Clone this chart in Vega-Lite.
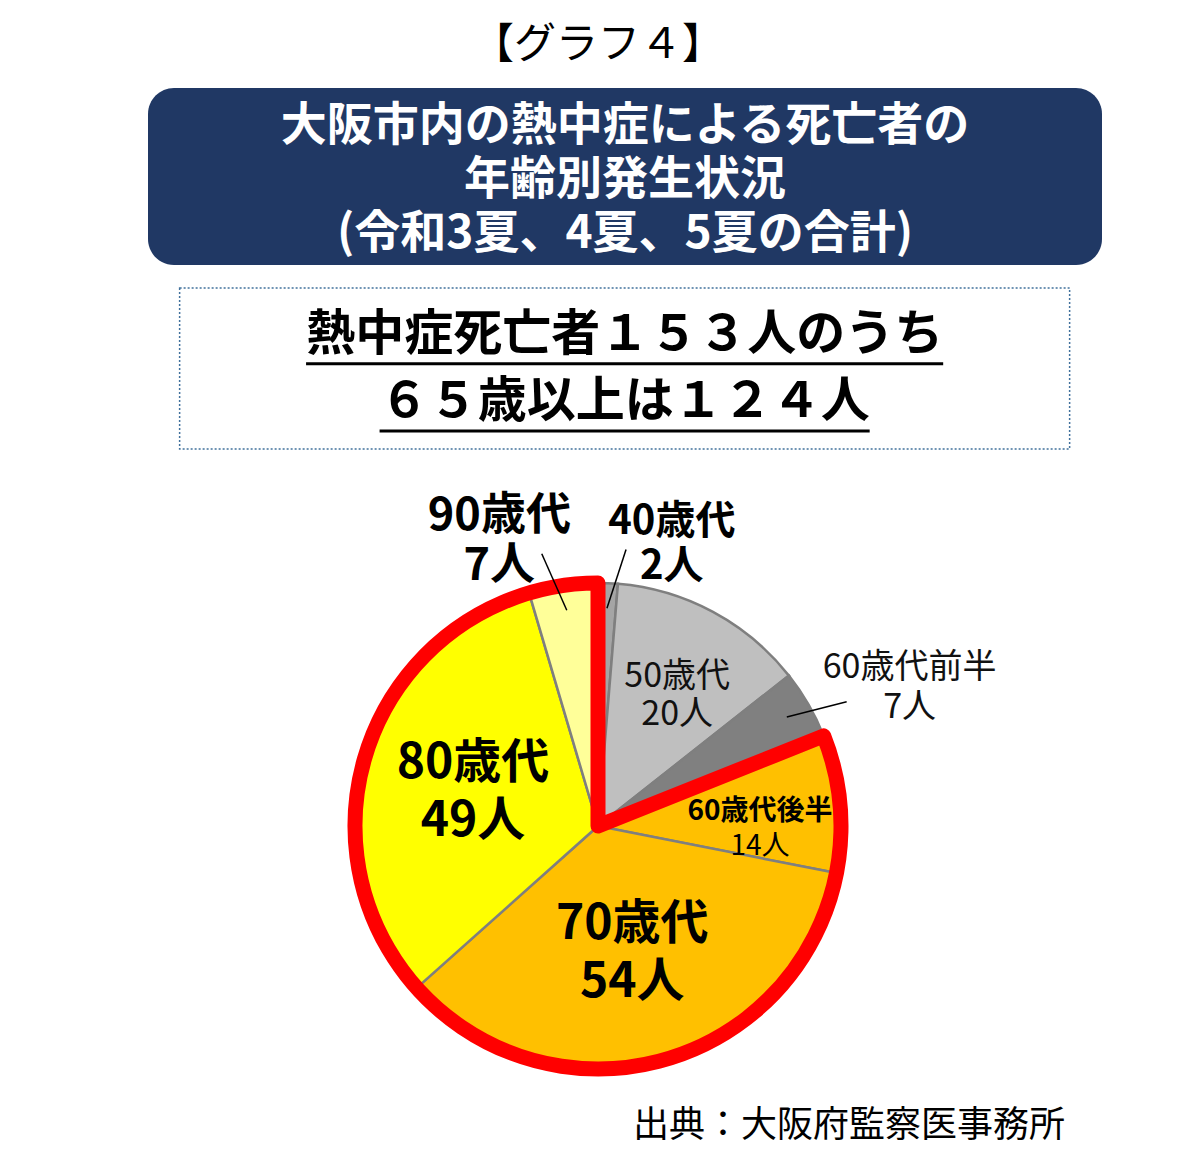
{
  "$schema": "https://vega.github.io/schema/vega-lite/v6.json",
  "padding": {"left": 94, "right": 98, "top": 24, "bottom": 16},
  "title": {"text": "【グラフ４】", "fontSize": 42, "fontWeight": "normal", "anchor": "middle", "offset": 20, "color": "#000000"},
  "center": true,
  "spacing": 44,
  "vconcat": [
    {
      "spacing": 14,
      "hconcat": [
        {
          "width": 40, "height": 10,
          "data": {"values": [{}]},
          "mark": {"type": "text"},
          "encoding": {"text": {"value": ""}}
        },
        {
          "center": true,
          "spacing": 22,
          "vconcat": [
            {
              "width": 954, "height": 177,
              "view": {"fill": "#203864", "stroke": null, "cornerRadius": 26},
              "data": {"values": [{"heading": "大阪市内の熱中症による死亡者の\n年齢別発生状況\n(令和3夏、4夏、5夏の合計)"}]},
              "mark": {"type": "text", "lineBreak": "\n", "fontSize": 46, "fontWeight": "bold", "color": "#ffffff", "lineHeight": 54, "baseline": "middle", "dy": -51},
              "encoding": {"text": {"field": "heading", "type": "nominal"}}
            },
            {
              "width": 890, "height": 161,
              "view": {"stroke": "#41719c", "strokeWidth": 1.5, "strokeDash": [2, 2], "fill": null},
              "data": {"values": [
                {"line": 1, "headline": "熱中症死亡者１５３人のうち"},
                {"line": 2, "headline": "６５歳以上は１２４人"}
              ]},
              "transform": [
                {"calculate": "length(datum.headline) / 2", "as": "u1"},
                {"calculate": "-length(datum.headline) / 2", "as": "u0"}
              ],
              "encoding": {
                "y": {"field": "line", "type": "ordinal", "axis": null, "scale": {"type": "band", "paddingInner": 0, "paddingOuter": 0.2}}
              },
              "layer": [
                {
                  "mark": {"type": "text", "fontSize": 49, "fontWeight": "bold", "baseline": "middle", "color": "#000000"},
                  "encoding": {"text": {"field": "headline", "type": "nominal"}}
                },
                {
                  "mark": {"type": "rule", "strokeWidth": 3, "color": "#000000"},
                  "encoding": {
                    "y": {"field": "line", "type": "ordinal", "axis": null, "bandPosition": 0.93},
                    "x": {"field": "u0", "type": "quantitative", "axis": null, "scale": {"domain": [-9.08, 9.08]}},
                    "x2": {"field": "u1"}
                  }
                }
              ]
            }
          ]
        }
      ]
    },
    {
      "width": 934, "height": 544,
      "title": {"text": "出典：大阪府監察医事務所", "orient": "bottom", "anchor": "end", "fontSize": 36, "fontWeight": "normal", "color": "#000000", "offset": 11},
      "data": {"values": [
        {"seq": 1, "age": "40歳代", "n": 2, "band": "65歳未満"},
        {"seq": 2, "age": "50歳代", "n": 20, "band": "65歳未満"},
        {"seq": 3, "age": "60歳代前半", "n": 7, "band": "65歳未満"},
        {"seq": 4, "age": "60歳代後半", "n": 14, "band": "65歳以上"},
        {"seq": 5, "age": "70歳代", "n": 54, "band": "65歳以上"},
        {"seq": 6, "age": "80歳代", "n": 49, "band": "65歳以上"},
        {"seq": 7, "age": "90歳代", "n": 7, "band": "65歳以上"}
      ]},
      "transform": [
        {"stack": "n", "groupby": [], "sort": [{"field": "seq", "order": "ascending"}], "as": ["a0", "a1"]},
        {"joinaggregate": [{"op": "sum", "field": "n", "as": "total"}]},
        {"calculate": "(datum.a0 + datum.a1) / 2", "as": "amid"},
        {"calculate": "datum.n + '人'", "as": "nlabel"},
        {"calculate": "datum.age + '\\n' + datum.nlabel", "as": "label"}
      ],
      "layer": [
        {
          "mark": {"type": "arc", "outerRadius": 243, "stroke": "#7f7f7f", "strokeWidth": 2.5},
          "encoding": {
            "theta": {"field": "n", "type": "quantitative", "stack": true, "scale": {"zero": true, "nice": false}},
            "order": {"field": "seq", "type": "quantitative", "sort": "ascending"},
            "color": {
              "field": "age", "type": "nominal", "legend": null,
              "scale": {
                "domain": ["40歳代", "50歳代", "60歳代前半", "60歳代後半", "70歳代", "80歳代", "90歳代"],
                "range": ["#a5a5a5", "#bfbfbf", "#808080", "#ffc000", "#ffc000", "#ffff00", "#ffff99"]
              }
            }
          }
        },
        {
          "transform": [
            {"filter": "datum.band === '65歳以上'"},
            {"aggregate": [{"op": "min", "field": "a0", "as": "b0"}, {"op": "max", "field": "a1", "as": "b1"}], "groupby": ["band"]}
          ],
          "mark": {"type": "arc", "outerRadius": 243, "filled": false, "stroke": "#ff0000", "strokeWidth": 15, "strokeJoin": "round"},
          "encoding": {
            "theta": {"field": "b0", "type": "quantitative", "stack": null},
            "theta2": {"field": "b1"}
          }
        },
        {
          "transform": [{"filter": {"field": "age", "oneOf": ["70歳代", "80歳代"]}}],
          "mark": {"type": "text", "radius": 130, "dy": -26, "fontSize": 48, "fontWeight": "bold", "lineBreak": "\n", "lineHeight": 58, "color": "#000000"},
          "encoding": {"theta": {"field": "amid", "type": "quantitative"}, "text": {"field": "label", "type": "nominal"}}
        },
        {
          "transform": [
            {"filter": {"field": "age", "equal": "50歳代"}},
            {"calculate": "datum.amid + 1.05", "as": "tpos"}
          ],
          "mark": {"type": "text", "radius": 155, "dy": -16, "fontSize": 34, "fontWeight": "normal", "lineBreak": "\n", "lineHeight": 38, "color": "#111111"},
          "encoding": {"theta": {"field": "tpos", "type": "quantitative"}, "text": {"field": "label", "type": "nominal"}}
        },
        {
          "transform": [
            {"filter": {"field": "age", "equal": "60歳代後半"}},
            {"calculate": "datum.amid + 2.3", "as": "tpos"}
          ],
          "mark": {"type": "text", "radius": 162, "dy": -14, "fontSize": 28, "fontWeight": "bold", "color": "#000000"},
          "encoding": {"theta": {"field": "tpos", "type": "quantitative"}, "text": {"field": "age", "type": "nominal"}}
        },
        {
          "transform": [
            {"filter": {"field": "age", "equal": "60歳代後半"}},
            {"calculate": "datum.amid + 2.3", "as": "tpos"}
          ],
          "mark": {"type": "text", "radius": 162, "dy": 21, "fontSize": 28, "fontWeight": "normal", "color": "#000000"},
          "encoding": {"theta": {"field": "tpos", "type": "quantitative"}, "text": {"field": "nlabel", "type": "nominal"}}
        },
        {
          "transform": [
            {"filter": {"field": "age", "equal": "40歳代"}},
            {"calculate": "datum.amid + 5.2", "as": "tpos"}
          ],
          "mark": {"type": "text", "radius": 293, "dy": -20, "fontSize": 40, "fontWeight": "bold", "lineBreak": "\n", "lineHeight": 45, "color": "#000000"},
          "encoding": {"theta": {"field": "tpos", "type": "quantitative"}, "text": {"field": "label", "type": "nominal"}}
        },
        {
          "transform": [
            {"filter": {"field": "age", "equal": "90歳代"}},
            {"calculate": "datum.amid - 4.55", "as": "tpos"}
          ],
          "mark": {"type": "text", "radius": 304, "dy": -22, "fontSize": 45, "fontWeight": "bold", "lineBreak": "\n", "lineHeight": 50, "color": "#000000"},
          "encoding": {"theta": {"field": "tpos", "type": "quantitative"}, "text": {"field": "label", "type": "nominal"}}
        },
        {
          "transform": [
            {"filter": {"field": "age", "equal": "60歳代前半"}},
            {"calculate": "datum.amid + 2.4", "as": "tpos"}
          ],
          "mark": {"type": "text", "radius": 342, "dy": -17, "fontSize": 34, "fontWeight": "normal", "lineBreak": "\n", "lineHeight": 40, "color": "#111111"},
          "encoding": {"theta": {"field": "tpos", "type": "quantitative"}, "text": {"field": "label", "type": "nominal"}}
        },
        {
          "transform": [
            {"filter": {"field": "age", "oneOf": ["40歳代", "60歳代前半", "90歳代"]}},
            {"calculate": "2 * PI * datum.amid / datum.total", "as": "ang"},
            {"calculate": "datum.ang + (sin(datum.ang) > 0 ? 0.06 : -0.06)", "as": "ang2"},
            {"calculate": "218 * sin(datum.ang)", "as": "lx1"},
            {"calculate": "218 * cos(datum.ang)", "as": "ly1"},
            {"calculate": "278 * sin(datum.ang2)", "as": "lx2"},
            {"calculate": "278 * cos(datum.ang2)", "as": "ly2"}
          ],
          "mark": {"type": "rule", "color": "#000000", "strokeWidth": 1.5},
          "encoding": {
            "x": {"field": "lx1", "type": "quantitative", "axis": null, "scale": {"domain": [-467, 467]}},
            "x2": {"field": "lx2"},
            "y": {"field": "ly1", "type": "quantitative", "axis": null, "scale": {"domain": [-272, 272]}},
            "y2": {"field": "ly2"}
          }
        }
      ]
    }
  ],
  "config": {"font": "Noto Sans CJK JP", "view": {"stroke": null}}
}
